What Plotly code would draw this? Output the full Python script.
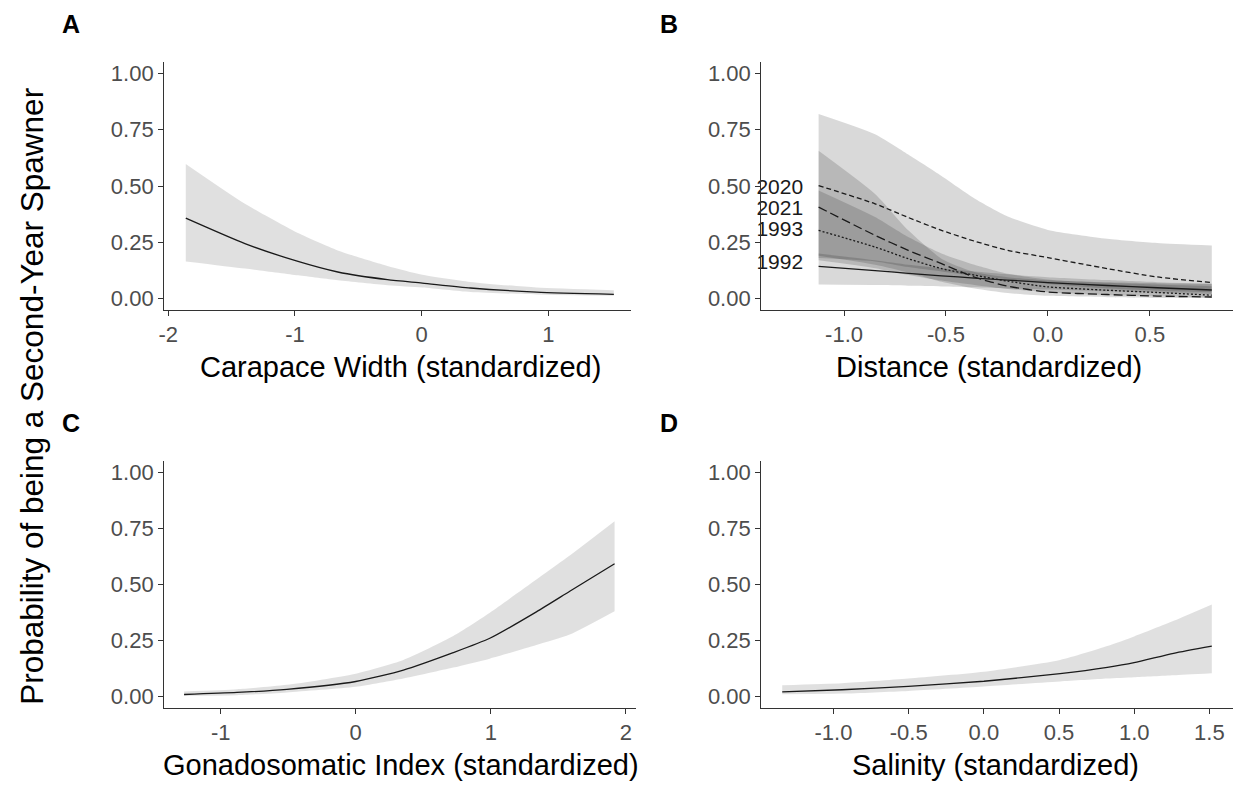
import plotly.graph_objects as go

W, H = 1236, 785

# ---------------- Data ----------------
# Panel A: Carapace Width
cw_x = [-1.862, -1.395, -0.976, -0.662, -0.270, 0.005, 0.385, 0.907, 1.517]
cw_fit = [0.357, 0.244, 0.165, 0.118, 0.084, 0.069, 0.047, 0.029, 0.019]
cw_hi = [0.598, 0.421, 0.291, 0.214, 0.145, 0.106, 0.074, 0.049, 0.037]
cw_lo = [0.165, 0.133, 0.103, 0.081, 0.059, 0.049, 0.029, 0.018, 0.012]

# Panel B: Distance by year
dist_x = [-1.125, -0.848, -0.685, -0.522, -0.360, -0.197, 0.0, 0.291, 0.536, 0.804]
years = ["2020", "2021", "1993", "1992"]
dist_fit = {
    "2020": [0.502, 0.421, 0.360, 0.303, 0.255, 0.214, 0.182, 0.133, 0.096, 0.071],
    "2021": [0.406, 0.281, 0.214, 0.155, 0.095, 0.055, 0.029, 0.018, 0.011, 0.007],
    "1993": [0.303, 0.229, 0.177, 0.133, 0.104, 0.077, 0.052, 0.037, 0.027, 0.015],
    "1992": [0.143, 0.124, 0.112, 0.101, 0.091, 0.082, 0.071, 0.058, 0.048, 0.038],
}
dist_hi = {
    "2020": [0.820, 0.730, 0.640, 0.545, 0.445, 0.365, 0.305, 0.266, 0.247, 0.236],
    "2021": [0.657, 0.465, 0.303, 0.177, 0.118, 0.095, 0.081, 0.072, 0.068, 0.066],
    "1993": [0.480, 0.362, 0.273, 0.200, 0.150, 0.110, 0.085, 0.070, 0.062, 0.055],
    "1992": [0.200, 0.170, 0.150, 0.135, 0.120, 0.108, 0.095, 0.082, 0.073, 0.066],
}
dist_lo = {
    "2020": [0.180, 0.165, 0.140, 0.120, 0.100, 0.085, 0.065, 0.045, 0.035, 0.028],
    "2021": [0.190, 0.150, 0.115, 0.075, 0.045, 0.025, 0.012, 0.006, 0.003, 0.002],
    "1993": [0.170, 0.135, 0.105, 0.080, 0.060, 0.042, 0.028, 0.015, 0.010, 0.005],
    "1992": [0.062, 0.060, 0.057, 0.054, 0.050, 0.045, 0.040, 0.032, 0.026, 0.020],
}
year_dash = {"2020": "5px,3px", "2021": "9px,4px", "1993": "2px,2px", "1992": "solid"}
label_x = [-1.201, -1.201, -1.201, -1.201]
label_y = [0.490, 0.394, 0.300, 0.155]

# Panel C: Gonadosomatic Index
gsi_x = [-1.271, -0.879, -0.510, 0.0, 0.353, 0.722, 0.993, 1.338, 1.585, 1.917]
gsi_fit = [0.009, 0.018, 0.032, 0.067, 0.118, 0.196, 0.260, 0.378, 0.470, 0.593]
gsi_hi = [0.022, 0.032, 0.052, 0.102, 0.163, 0.270, 0.374, 0.522, 0.629, 0.782]
gsi_lo = [0.003, 0.006, 0.018, 0.043, 0.080, 0.129, 0.169, 0.230, 0.277, 0.381]

# Panel D: Salinity
sal_x = [-1.341, -0.944, -0.503, 0.0, 0.507, 0.821, 0.999, 1.262, 1.516]
sal_fit = [0.021, 0.030, 0.045, 0.068, 0.102, 0.130, 0.151, 0.193, 0.225]
sal_hi = [0.050, 0.059, 0.080, 0.110, 0.163, 0.225, 0.268, 0.338, 0.411]
sal_lo = [0.010, 0.013, 0.025, 0.045, 0.067, 0.080, 0.086, 0.095, 0.104]

y_ticks = [0, 0.25, 0.5, 0.75, 1.0]
y_ticktext = ["0.00", "0.25", "0.50", "0.75", "1.00"]

FONT = "Liberation Sans, Arial, sans-serif"

# ---------------- Figure ----------------
fig = go.Figure()

def band(xs, lo, hi, xa, ya, color):
    fig.add_trace(go.Scatter(
        x=xs, y=lo, mode="lines", line=dict(width=0, shape="spline", smoothing=0.6),
        hoverinfo="skip", xaxis=xa, yaxis=ya))
    fig.add_trace(go.Scatter(
        x=xs, y=hi, mode="lines", fill="tonexty", fillcolor=color,
        line=dict(width=0, shape="spline", smoothing=0.6),
        hoverinfo="skip", xaxis=xa, yaxis=ya))

def line(xs, ys, xa, ya, dash="solid"):
    fig.add_trace(go.Scatter(
        x=xs, y=ys, mode="lines",
        line=dict(color="#1a1a1a", width=1.3, dash=dash, shape="spline", smoothing=0.6),
        xaxis=xa, yaxis=ya))

single_fill = "rgba(0,0,0,0.12)"
band(cw_x, cw_lo, cw_hi, "x", "y", single_fill)
line(cw_x, cw_fit, "x", "y")

for yr in years:
    band(dist_x, dist_lo[yr], dist_hi[yr], "x2", "y2", "rgba(0,0,0,0.15)")
for yr in years:
    line(dist_x, dist_fit[yr], "x2", "y2", year_dash[yr])
fig.add_trace(go.Scatter(
    x=label_x, y=label_y, text=years, mode="text", textposition="middle left",
    textfont=dict(size=21, color="#1a1a1a", family=FONT),
    cliponaxis=False, xaxis="x2", yaxis="y2"))

band(gsi_x, gsi_lo, gsi_hi, "x3", "y3", single_fill)
line(gsi_x, gsi_fit, "x3", "y3")

band(sal_x, sal_lo, sal_hi, "x4", "y4", single_fill)
line(sal_x, sal_fit, "x4", "y4")

def fx(p):
    return p / W

def fy(p):
    return 1 - p / H

axis_common = dict(
    showline=True, linecolor="#333333", linewidth=1.4, ticks="outside", ticklen=5,
    tickwidth=1.2, tickcolor="#333333", showgrid=False, zeroline=False,
    tickfont=dict(size=22, color="#4D4D4D", family=FONT),
    fixedrange=True,
)

def xaxis(dom, rng, vals, texts, anchor):
    d = dict(axis_common)
    d.update(domain=[fx(dom[0]), fx(dom[1])], range=rng, tickvals=vals, ticktext=texts, anchor=anchor)
    return d

def yaxis(dom, anchor):
    d = dict(axis_common)
    d.update(domain=[fy(dom[1]), fy(dom[0])], range=[-0.05, 1.05], tickvals=y_ticks,
             ticktext=y_ticktext, anchor=anchor)
    return d

top = (61.4, 309.6)
bot = (461.5, 708.5)
fig.update_layout(
    width=W, height=H, margin=dict(l=0, r=0, t=0, b=0),
    paper_bgcolor="white", plot_bgcolor="white", showlegend=False,
    font=dict(family=FONT),
    xaxis=xaxis((159, 628), [-2.032, 1.652], [-2, -1, 0, 1], ["-2", "-1", "0", "1"], "y"),
    yaxis=yaxis(top, "x"),
    xaxis2=xaxis((759, 1233), [-1.406, 0.908], [-1.0, -0.5, 0.0, 0.5], ["-1.0", "-0.5", "0.0", "0.5"], "y2"),
    yaxis2=yaxis(top, "x2"),
    xaxis3=xaxis((159, 633), [-1.418, 2.075], [-1, 0, 1, 2], ["-1", "0", "1", "2"], "y3"),
    yaxis3=yaxis(bot, "x3"),
    xaxis4=xaxis((759, 1233), [-1.480, 1.657], [-1.0, -0.5, 0.0, 0.5, 1.0, 1.5],
                 ["-1.0", "-0.5", "0.0", "0.5", "1.0", "1.5"], "y4"),
    yaxis4=yaxis(bot, "x4"),
)

annotations = []
# Panel letters
for letter, px, py in [("A", 54, 23), ("B", 655, 23), ("C", 54, 423), ("D", 655, 423)]:
    annotations.append(dict(text="<b>%s</b>" % letter, x=fx(px), y=fy(py), xref="paper", yref="paper",
                            xanchor="left", yanchor="middle", showarrow=False,
                            font=dict(size=25, color="black", family=FONT)))
# X axis titles
for title, px, py in [("Carapace Width (standardized)", 396, 367),
                      ("Distance (standardized)", 988, 367),
                      ("Gonadosomatic Index (standardized)", 397, 766),
                      ("Salinity (standardized)", 994, 766)]:
    annotations.append(dict(text=title, x=fx(px), y=fy(py), xref="paper", yref="paper",
                            xanchor="center", yanchor="middle", showarrow=False,
                            font=dict(size=29, color="black", family=FONT)))
# Y axis title
annotations.append(dict(text="Probability of being a Second-Year Spawner", x=fx(26), y=fy(396),
                        xref="paper", yref="paper", xanchor="center", yanchor="middle",
                        textangle=-90, showarrow=False,
                        font=dict(size=31.5, color="black", family=FONT)))
fig.update_layout(annotations=annotations)

fig.write_html("out.html", config={"displayModeBar": False},
               post_script="document.body.style.margin='0';")
